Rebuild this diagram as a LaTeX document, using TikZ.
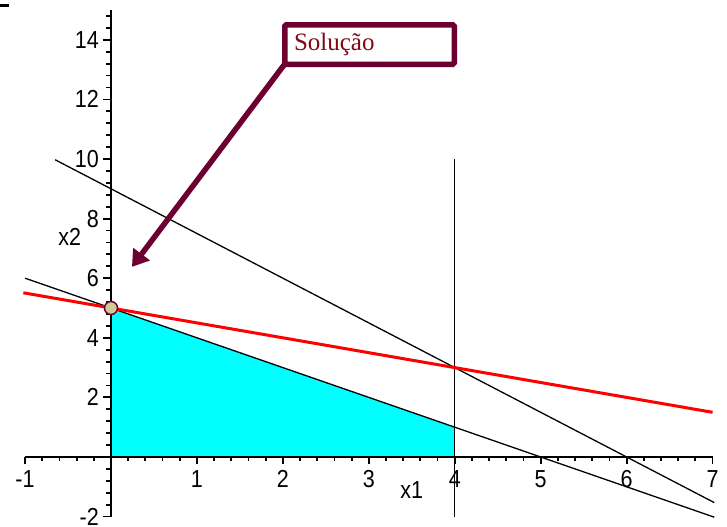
\documentclass[tikz,border=0pt]{standalone}
\usepackage{fontspec}
\setmainfont{Liberation Sans}
\newfontfamily\serifbox{Liberation Serif}
\usetikzlibrary{arrows.meta}
\definecolor{maroonc}{RGB}{108,0,48}
\definecolor{boxtext}{RGB}{128,10,20}
\definecolor{tanc}{RGB}{212,202,150}
\definecolor{regionc}{RGB}{0,255,255}
\newcommand{\ticklab}[1]{\scalebox{1.05}[1.2]{\fontsize{20.5}{21}\selectfont #1}}
\begin{document}
\begin{tikzpicture}[x=85.94pt,y=29.8pt,
  axisline/.style={line width=1.8pt,black},
  plotline/.style={line width=1.3pt,black},
  redline/.style={line width=3pt,red},
  tickmark/.style={line width=1.8pt,black},
  solbox/.style={draw=maroonc,line width=5.5pt,rounded corners=1.5pt,fill=white,
    minimum width=169.5pt,minimum height=39.5pt,text width=151pt,align=left,
    inner xsep=9pt,font=\serifbox\fontsize{25}{28}\selectfont,text=boxtext},
  callarrow/.style={draw=maroonc,line width=5.5pt,-{Triangle[width=20pt,length=16pt]}}]
\useasboundingbox (-1.2916,-2.349) rectangle (7.168,15.336);
% stray mark
\fill[black] (-1.2916,15.10) rectangle (-1.187,15.20);
% feasible region
\fill[regionc] (0,0) -- (0,5) -- (4,1) -- (4,0) -- cycle;
% ticks x
\foreach \i in {-5,...,35}{
  \draw[tickmark] (\i*0.2,0) -- ++(0,-4.5pt);
}
\foreach \i in {-1,...,7}{
  \draw[tickmark] (\i,0) -- ++(0,-7.5pt);
}
\foreach \i in {-1,1,2,3,4,5,6,7}{
  \node[anchor=north,inner sep=0pt] (xl\i) at ([yshift=-13pt]\i,0) {\ticklab{\ifnum\i<0 -1\else\i\fi}};
}
% ticks y
\foreach \i in {-5,...,37}{
  \draw[tickmark] (0,\i*0.4) -- ++(-4.5pt,0);
}
\foreach \i in {-2,2,4,...,14}{
  \draw[tickmark] (0,\i) -- ++(-7.5pt,0);
  \node[anchor=east,inner sep=0pt] (yl\i) at ([xshift=-12pt]0,\i) {\ticklab{\ifnum\i<0 -2\else\i\fi}};
}
% axes
\draw[axisline] (-1,0) -- (7.01,0);
\draw[axisline] (0,-2) -- (0,15.0);
% constraint lines
\draw[plotline] (-0.65,9.975) -- (7.02,-1.53);
\draw[plotline] (-1,6) -- (7.02,-2.02);
\draw[plotline] (4,-2) -- (4,10);
\draw[redline] (-1.02,5.51) -- (7.0,1.5);
% axis labels
\node[inner sep=0pt] (xlab) at (3.5,-1.1) {\ticklab{x1}};
\node[inner sep=0pt] (ylab) at (-0.48,7.4) {\ticklab{x2}};
% solution point
\node[circle,draw=maroonc,line width=1.5pt,fill=tanc,minimum size=13pt,inner sep=0pt] (sol) at (0,5) {};
% callout
\node[solbox] (box) at (3.008,13.842) {Solução};
\coordinate (tip) at (0.244,6.38);
\draw[callarrow] ([xshift=2pt,yshift=2pt]box.south west) -- (tip);
\end{tikzpicture}
\end{document}
